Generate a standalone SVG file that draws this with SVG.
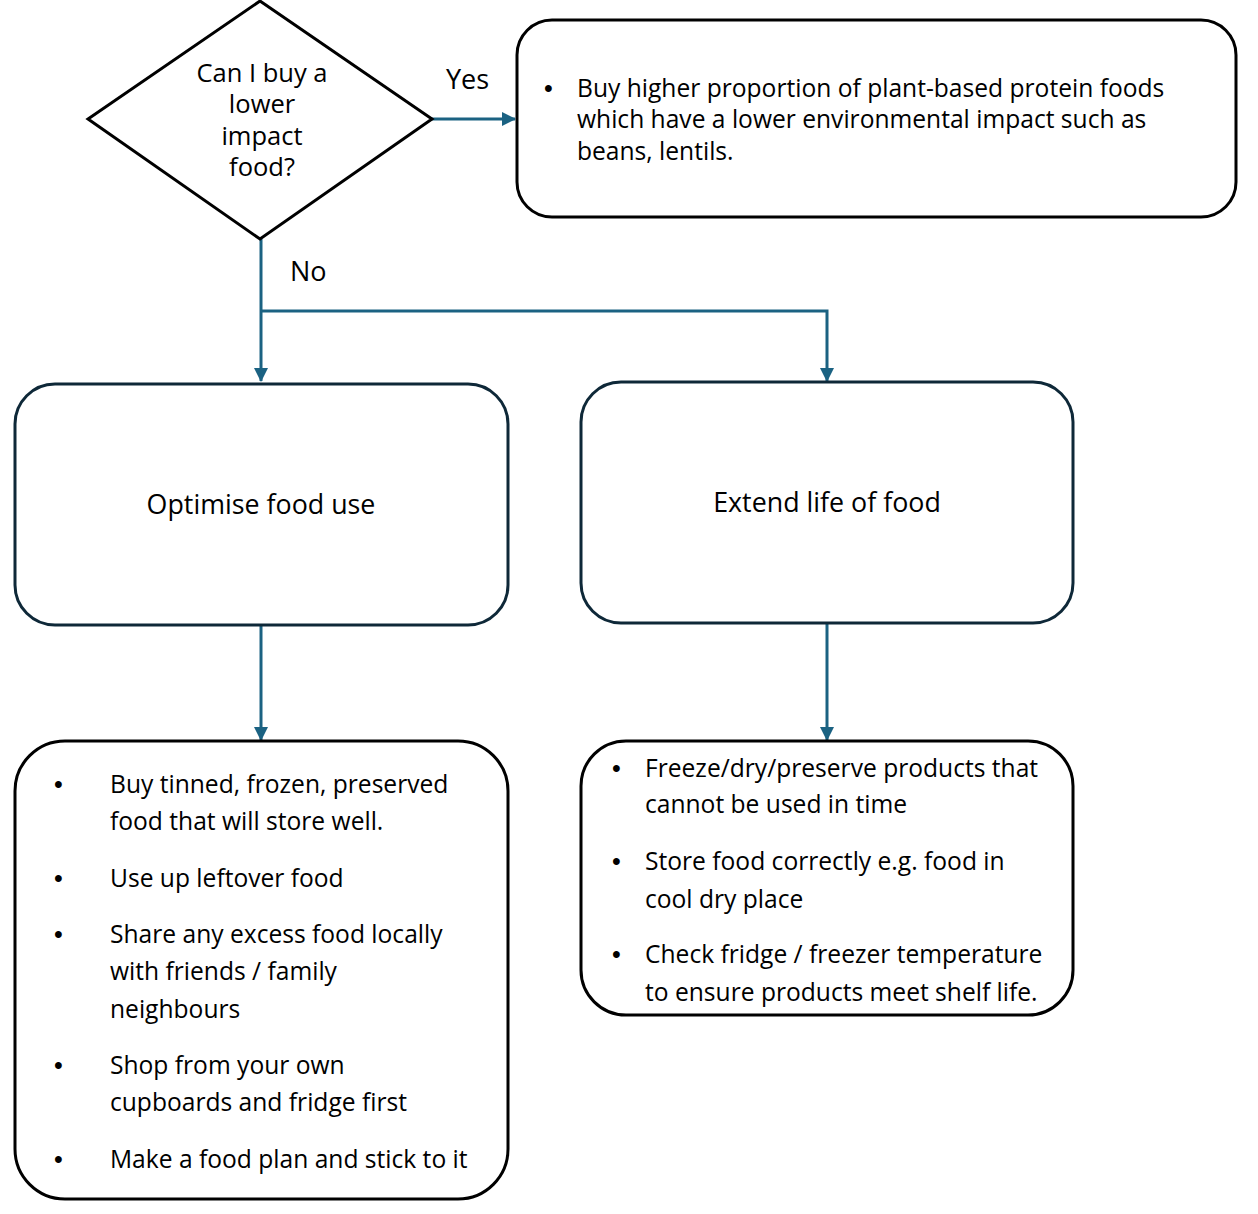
<svg xmlns="http://www.w3.org/2000/svg" width="1258" height="1214" viewBox="0 0 1258 1214">
<defs>
<marker id="ah" markerWidth="14" markerHeight="14" refX="13" refY="7" orient="auto" markerUnits="userSpaceOnUse" viewBox="0 0 14 14">
<path d="M0,0 L14,7 L0,14 z" fill="#1b6282"/>
</marker>
<style>
.t{font-family:"Open Sans","Liberation Sans",sans-serif;font-size:24.6px;fill:#000}
.d{font-size:25.5px}
.m{font-size:26.8px}
.l{font-size:27px}
.b{font-family:"Liberation Sans",sans-serif;font-size:25px;fill:#000}
.c{text-anchor:middle}
.blk{fill:#fff;stroke:#000;stroke-width:3}
.nav{fill:#fff;stroke:#0e2838;stroke-width:3}
.con{fill:none;stroke:#1b6282;stroke-width:3}
</style>
</defs>
<rect width="1258" height="1214" fill="#fff"/>
<g id="connectors">
<path class="con" d="M432,119 L515,119" marker-end="url(#ah)"/>
<path class="con" d="M261,239 L261,381" marker-end="url(#ah)"/>
<path class="con" d="M261,311 L827,311 L827,381" marker-end="url(#ah)"/>
<path class="con" d="M261,625 L261,740" marker-end="url(#ah)"/>
<path class="con" d="M827,623 L827,740" marker-end="url(#ah)"/>
<text class="t l" x="446" y="89">Yes</text>
<text class="t l" x="290" y="281">No</text>
</g>
<g id="decision">
<polygon class="blk" points="260,1 432,119 260,239 88,119"/>
<text class="t d c" x="262" y="82">Can I buy a</text>
<text class="t d c" x="262" y="113">lower</text>
<text class="t d c" x="262" y="145">impact</text>
<text class="t d c" x="262" y="176">food?</text>
</g>
<g id="yes-box">
<rect class="blk" x="517" y="20" width="719" height="197" rx="35"/>
<text class="b" x="544" y="97">•</text>
<text class="t" x="577" y="97">Buy higher proportion of plant-based protein foods</text>
<text class="t" x="577" y="128">which have a lower environmental impact such as</text>
<text class="t" x="577" y="160">beans, lentils.</text>
</g>
<g id="optimise">
<rect class="nav" x="15" y="384" width="493" height="241" rx="40"/>
<text class="t m c" x="261" y="514">Optimise food use</text>
</g>
<g id="extend">
<rect class="nav" x="581" y="382" width="492" height="241" rx="40"/>
<text class="t m c" x="827" y="512">Extend life of food</text>
</g>
<g id="optimise-list">
<rect class="blk" x="15" y="741" width="493" height="458" rx="50"/>
<text class="b" x="54" y="793">•</text>
<text class="t" x="110" y="793">Buy tinned, frozen, preserved</text>
<text class="t" x="110" y="830">food that will store well.</text>
<text class="b" x="54" y="887">•</text>
<text class="t" x="110" y="887">Use up leftover food</text>
<text class="b" x="54" y="943">•</text>
<text class="t" x="110" y="943">Share any excess food locally</text>
<text class="t" x="110" y="980">with friends / family</text>
<text class="t" x="110" y="1018">neighbours</text>
<text class="b" x="54" y="1074">•</text>
<text class="t" x="110" y="1074">Shop from your own</text>
<text class="t" x="110" y="1111">cupboards and fridge first</text>
<text class="b" x="54" y="1168">•</text>
<text class="t" x="110" y="1168">Make a food plan and stick to it</text>
</g>
<g id="extend-list">
<rect class="blk" x="581" y="741" width="492" height="274" rx="45"/>
<text class="b" x="612" y="777">•</text>
<text class="t" x="645" y="777">Freeze/dry/preserve products that</text>
<text class="t" x="645" y="813">cannot be used in time</text>
<text class="b" x="612" y="870">•</text>
<text class="t" x="645" y="870">Store food correctly e.g. food in</text>
<text class="t" x="645" y="908">cool dry place</text>
<text class="b" x="612" y="963">•</text>
<text class="t" x="645" y="963">Check fridge / freezer temperature</text>
<text class="t" x="645" y="1001">to ensure products meet shelf life.</text>
</g>
</svg>
